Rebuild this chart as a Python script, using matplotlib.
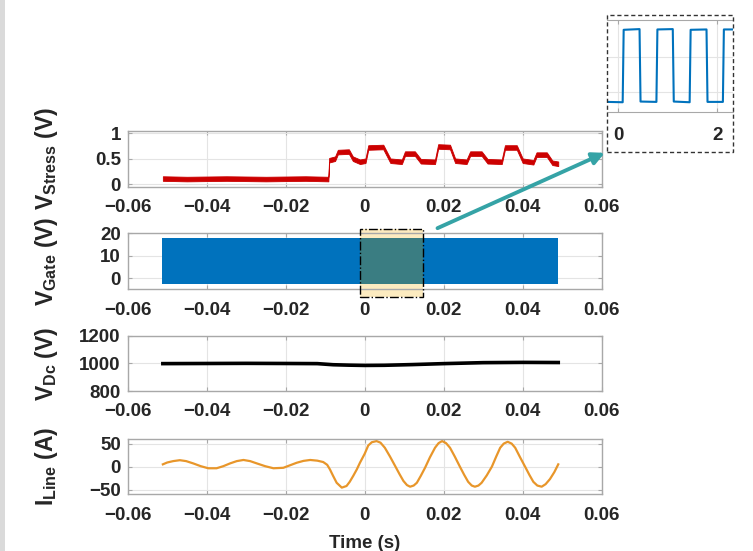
import matplotlib
matplotlib.use('Agg')
import matplotlib.pyplot as plt
import numpy as np
from matplotlib.patches import Rectangle, FancyArrowPatch

# ---- data ----
time_ticks = [-0.06, -0.04, -0.02, 0, 0.02, 0.04, 0.06]
time_labels = ['\u22120.06', '\u22120.04', '\u22120.02', '0', '0.02', '0.04', '0.06']

# V_Stress: centre of the noisy band
stress_t = [-0.0511, -0.045, -0.035, -0.025, -0.015, -0.0092, -0.0090, -0.0075, -0.0068,
            -0.0040, -0.0030, -0.0012, 0.0002, 0.0009, 0.0047, 0.0065, 0.0094, 0.0102,
            0.0127, 0.0142, 0.0178, 0.0186, 0.0216, 0.0229, 0.0258, 0.0267, 0.0296,
            0.0311, 0.0347, 0.0355, 0.0385, 0.0400, 0.0427, 0.0435, 0.0461, 0.0475, 0.0490]
stress_v = [0.11, 0.10, 0.11, 0.10, 0.11, 0.10, 0.47, 0.50, 0.63,
            0.64, 0.50, 0.44, 0.46, 0.72, 0.73, 0.46, 0.44, 0.60,
            0.60, 0.45, 0.44, 0.74, 0.73, 0.46, 0.44, 0.60, 0.60,
            0.45, 0.44, 0.72, 0.72, 0.46, 0.43, 0.58, 0.58, 0.42, 0.40]
stress_ripple = 0.045

# V_Gate: switching band and the zoomed window
gate_t = [-0.0512, 0.0490]
gate_low = -2.8
gate_high = 17.8
zoom_t = [-0.0011, 0.0148]
zoom_v = [-8.6, 21.8]

inset_t = [-0.22, 0.09, 0.11, 0.43, 0.45, 0.77, 0.79, 1.10, 1.12, 1.44, 1.46, 1.78, 1.80, 2.11, 2.13, 2.32]
inset_v = [-2.9, -3.0, 17.7, 17.9, -2.8, -2.9, 17.8, 17.9, -2.8, -3.0, 17.7, 17.8, -2.9, -2.9, 17.8, 17.8]

# V_Dc
dc_t = [-0.0511, -0.04, -0.03, -0.02, -0.012, -0.008, -0.004, 0.0, 0.005, 0.012, 0.02, 0.03, 0.04, 0.049]
dc_v = [998, 999, 1000, 999, 998, 990, 987, 985, 986, 991, 998, 1005, 1007, 1006]

# I_Line
line_t = [-0.0511, -0.0500, -0.0485, -0.0468, -0.0452, -0.0434, -0.0415, -0.0396, -0.0375, -0.0358,
          -0.0341, -0.0324, -0.0307, -0.0290, -0.0273, -0.0252, -0.0231, -0.0206, -0.0189, -0.0172,
          -0.0155, -0.0138, -0.0120, -0.0105, -0.0095, -0.0088, -0.0080, -0.0071, -0.0058, -0.0046,
          -0.0038, -0.0029, -0.0020, -0.0012, 0.0000, 0.0009, 0.0018, 0.0030, 0.0040, 0.0051,
          0.0064, 0.0077, 0.0088, 0.0098, 0.0107, 0.0115, 0.0124, 0.0132, 0.0142, 0.0153,
          0.0165, 0.0178, 0.0187, 0.0196, 0.0206, 0.0216, 0.0228, 0.0241, 0.0252, 0.0262,
          0.0271, 0.0279, 0.0288, 0.0296, 0.0309, 0.0322, 0.0333, 0.0343, 0.0352, 0.0362,
          0.0372, 0.0381, 0.0393, 0.0406, 0.0417, 0.0427, 0.0437, 0.0448, 0.0458, 0.0469,
          0.0480, 0.0490]
line_v = [5, 9, 12, 14, 12, 7, 1, -3.5, -3.5, 1,
          7, 12, 14.5, 12, 7, 1, -3.5, -2.5, 3, 8.5,
          12.5, 14.5, 13, 10, 4, -6, -20, -35, -45.5, -42,
          -33, -20, -6, 8.5, 28, 46, 53, 55.5, 52, 41,
          22, 1.5, -16, -31, -40, -43.5, -41, -35, -20, -2,
          20, 41, 51, 55.5, 51, 41, 22, 0, -18, -33,
          -41, -43.5, -41, -35, -19, 0, 22, 41, 50, 54,
          50, 41, 21, 0, -18, -33, -41, -43.5, -38, -27,
          -12, 5]

# ---- style ----
plt.rcParams['font.family'] = ['Liberation Sans', 'DejaVu Sans']
plt.rcParams['font.weight'] = 'bold'
plt.rcParams['axes.labelweight'] = 'bold'
plt.rcParams['font.size'] = 13.5
plt.rcParams['mathtext.fontset'] = 'custom'
plt.rcParams['mathtext.rm'] = 'Liberation Sans:bold'
plt.rcParams['mathtext.bf'] = 'Liberation Sans:bold'
plt.rcParams['mathtext.it'] = 'Liberation Sans:bold'
plt.rcParams['mathtext.default'] = 'bf'

frame_col = '#a8a8a8'
text_col = '#262626'

fig = plt.figure(figsize=(7.53, 5.51), dpi=100)

W, H = 753.0, 551.0
def px_axes(left, top, right, bottom):
    return [left / W, 1 - bottom / H, (right - left) / W, (bottom - top) / H]

ax1 = fig.add_axes(px_axes(127.7, 130.7, 601.7, 186.7))
ax2 = fig.add_axes(px_axes(127.7, 233.3, 601.7, 289.3))
ax3 = fig.add_axes(px_axes(127.7, 335.7, 601.7, 391.0))
ax4 = fig.add_axes(px_axes(127.7, 439.0, 601.7, 494.3))


def fmt(v):
    return str(v).replace('-', '\u2212')


def style(ax, ylim, yticks, ylabel):
    ax.set_xlim(-0.06, 0.06)
    ax.set_xticks(time_ticks, time_labels)
    ax.set_ylim(*ylim)
    ax.set_yticks(yticks, [fmt(v) for v in yticks])
    ax.grid(True, color='#e4e4e4', lw=0.8)
    ax.set_axisbelow(True)
    for s in ax.spines.values():
        s.set_color(frame_col)
        s.set_linewidth(1.0)
    ax.tick_params(direction='in', length=3, width=0.8, color=frame_col,
                   top=True, right=True, labelcolor=text_col)
    ax.tick_params(axis='x', pad=9)
    ax.tick_params(axis='y', pad=5)
    ax.set_ylabel(ylabel, color=text_col, fontsize=16.5, fontweight='bold')
    ax.yaxis.set_label_coords(-0.142, 0.5)


# V_Stress
s_t = np.array(stress_t)
s_v = np.array(stress_v)
ax1.fill_between(s_t, s_v - stress_ripple, s_v + stress_ripple, color='#cc0000', lw=0.6, edgecolor='#cc0000')
style(ax1, (-0.05, 1.05), [0, 0.5, 1], r'$V_{Stress}$ (V)')

# V_Gate
ax2.add_patch(Rectangle((zoom_t[0], zoom_v[0]), zoom_t[1] - zoom_t[0], zoom_v[1] - zoom_v[0],
                        facecolor='#fcebc0', edgecolor='none', zorder=1, clip_on=False))
ax2.fill_between(gate_t, gate_low, gate_high, color='#0072bd', lw=0, zorder=2)
ax2.fill_between(zoom_t, gate_low, gate_high, color='#3a7d82', lw=0, zorder=3)
ax2.add_patch(Rectangle((zoom_t[0], zoom_v[0]), zoom_t[1] - zoom_t[0], zoom_v[1] - zoom_v[0],
                        fill=False, edgecolor='black', ls='-.', lw=1.0, zorder=4, clip_on=False))
style(ax2, (-5, 20), [0, 10, 20], r'$V_{Gate}$ (V)')

# V_Dc
ax3.plot(dc_t, dc_v, color='black', lw=2.6)
style(ax3, (800, 1200), [800, 1000, 1200], r'$V_{Dc}$ (V)')

# I_Line
ax4.plot(line_t, line_v, color='#e8962a', lw=1.6)
style(ax4, (-60, 60), [-50, 0, 50], r'$I_{Line}$ (A)')

fig.text(364.7 / W, 3.5 / H, 'Time (s)', ha='center', va='baseline', color=text_col, fontweight='bold')

# inset of the gate signal
axin = fig.add_axes(px_axes(607.3, 20.0, 733.3, 111.7))
axin.plot(inset_t, inset_v, color='#0072bd', lw=1.5)
axin.set_xlim(-0.22, 2.32)
axin.set_ylim(-5.7, 20.5)
axin.set_xticks([0, 2], ['0', '2'])
axin.set_yticks([0, 10], [])
axin.grid(True, color='#e4e4e4', lw=0.8)
axin.set_axisbelow(True)
for s in axin.spines.values():
    s.set_color(frame_col)
axin.spines['left'].set_visible(False)
axin.spines['right'].set_visible(False)
axin.tick_params(direction='in', length=3, width=0.8, color=frame_col, top=True,
                 left=False, labelcolor=text_col, pad=11)

fig.add_artist(Rectangle((607.3 / W, 1 - 151.7 / H), 126.0 / W, 136.7 / H,
                         transform=fig.transFigure, fill=False, ec='#333333',
                         ls=(0, (3, 2)), lw=1.0))

# arrow from the highlighted window to the inset
fig.add_artist(FancyArrowPatch((435.0 / W, 1 - 229.3 / H), (607.3 / W, 1 - 151.7 / H),
                               transform=fig.transFigure, arrowstyle='-|>',
                               mutation_scale=18, lw=2.8, color='#35a3a6'))

# grey strip along the left edge of the page
fig.add_artist(Rectangle((0, 0), 5.0 / W, 1, transform=fig.transFigure,
                         color='#dadada', lw=0))

fig.savefig('out.png', dpi=100)
